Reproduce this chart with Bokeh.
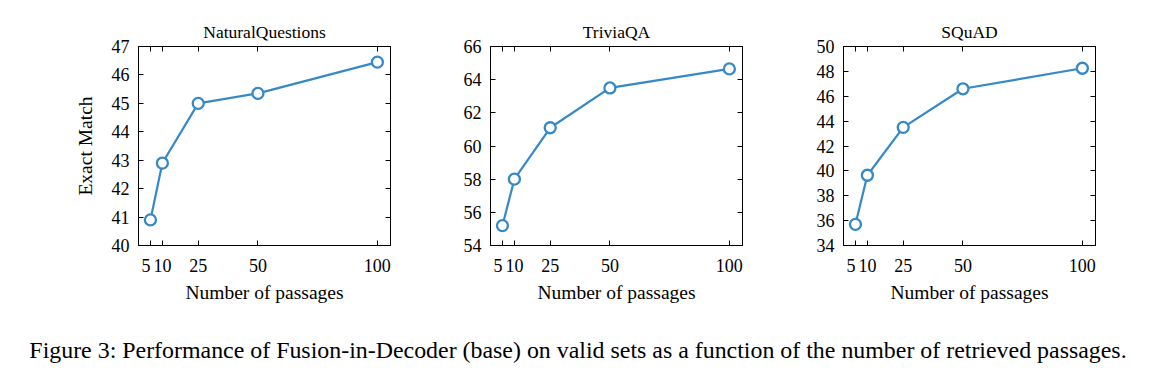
from bokeh.plotting import figure
from bokeh.models import FixedTicker, LinearAxis, Div, Range1d
from bokeh.layouts import row, column
from bokeh.embed import file_html
from bokeh.resources import INLINE

# ---- data ----
passages = [5, 10, 25, 50, 100]
x_tick_labels = ["5\u2002", "10", "25", "50", "100"]
nq_em = [40.9, 42.9, 45.0, 45.35, 46.45]
tqa_em = [55.2, 58.0, 61.1, 63.5, 64.65]
squad_em = [35.7, 39.65, 43.5, 46.6, 48.25]
titles = ["NaturalQuestions", "TriviaQA", "SQuAD"]
nq_yticks = [40, 41, 42, 43, 44, 45, 46, 47]
tqa_yticks = [54, 56, 58, 60, 62, 64, 66]
squad_yticks = [34, 36, 38, 40, 42, 44, 46, 48, 50]
caption = ("Figure 3: Performance of Fusion-in-Decoder (base) on valid sets "
           "as a function of the number of retrieved passages.")

# ---- style ----
FONT = "Liberation Serif"
BLUE = "#3589c6"
FRAME_W, FRAME_H = 252, 199
TOP, BOTTOM = 46, 66


def make_panel(title, values, yticks, left, right, ylabel=None):
    p = figure(frame_width=FRAME_W, frame_height=FRAME_H,
               min_border_left=left, min_border_right=right,
               min_border_top=TOP, min_border_bottom=BOTTOM,
               x_range=Range1d(0, 105.5),
               y_range=Range1d(yticks[0], yticks[-1]),
               toolbar_location=None, output_backend="svg",
               title=title)
    p.title.align = "center"
    p.title.text_font = FONT
    p.title.text_font_size = "17.5px"
    p.title.text_font_style = "normal"
    p.title.text_color = "black"
    p.grid.visible = False
    p.outline_line_color = "black"
    p.outline_line_width = 1
    p.background_fill_color = "white"
    p.border_fill_color = "white"

    xt = FixedTicker(ticks=passages)
    yt = FixedTicker(ticks=yticks)

    xa = p.xaxis[0]
    xa.ticker = xt
    xa.major_label_overrides = dict(zip(passages, x_tick_labels))
    xa.major_label_text_font = FONT
    xa.major_label_text_font_size = "18px"
    xa.major_label_standoff = 10
    xa.axis_label = "Number of passages"
    xa.axis_label_text_font = FONT
    xa.axis_label_text_font_size = "19.5px"
    xa.axis_label_text_font_style = "normal"
    xa.axis_label_standoff = 3

    ya = p.yaxis[0]
    ya.ticker = yt
    ya.major_label_text_font = FONT
    ya.major_label_text_font_size = "18px"
    ya.major_label_standoff = 9
    if ylabel:
        ya.axis_label = ylabel
        ya.axis_label_text_font = FONT
        ya.axis_label_text_font_size = "19.5px"
        ya.axis_label_text_font_style = "normal"
        ya.axis_label_standoff = 13

    top = LinearAxis(ticker=xt, major_label_overrides={v: "" for v in passages})
    rgt = LinearAxis(ticker=yt, major_label_overrides={v: "" for v in yticks})
    p.add_layout(top, "above")
    p.add_layout(rgt, "right")

    for ax in [xa, ya, top, rgt]:
        ax.major_tick_in = 5
        ax.major_tick_out = 0
        ax.minor_tick_in = 0
        ax.minor_tick_out = 0
        ax.axis_line_color = "black"
        ax.major_tick_line_color = "black"
        ax.major_label_text_color = "black"
        ax.axis_label_text_color = "black"

    p.line(passages, values, line_color=BLUE, line_width=2.2)
    p.scatter(passages, values, marker="circle", size=11,
              fill_color="white", line_color=BLUE, line_width=2.3)
    return p


p1 = make_panel(titles[0], nq_em, nq_yticks, 138, 50, ylabel="Exact Match")
p2 = make_panel(titles[1], tqa_em, tqa_yticks, 50, 50)
p3 = make_panel(titles[2], squad_em, squad_yticks, 51, 54)

cap = Div(text=caption, width=1156,
          styles={"font-family": FONT, "font-size": "23.9px", "color": "black",
                  "text-align": "center", "width": "1156px",
                  "white-space": "nowrap"},
          margin=(22, 0, 0, 0))

layout = column(row(p1, p2, p3), cap)

open("out.html", "w").write(file_html(layout, INLINE))
